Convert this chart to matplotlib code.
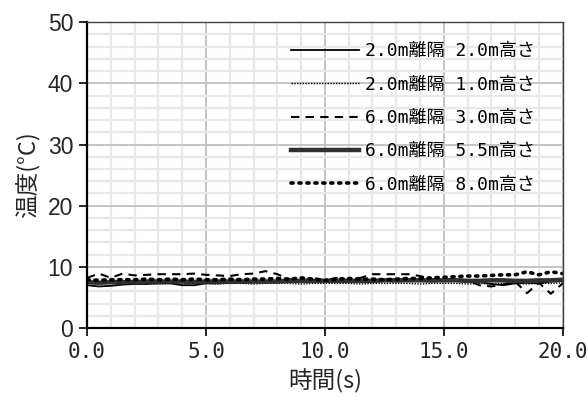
import numpy as np
import matplotlib
matplotlib.use('Agg')
import matplotlib.pyplot as plt
from matplotlib.ticker import MultipleLocator

plt.rcParams['font.family'] = ['Noto Sans CJK JP', 'DejaVu Sans']
mono = ['DejaVu Sans Mono', 'Noto Sans CJK JP']
narrow = ['Liberation Sans Narrow', 'Liberation Sans', 'DejaVu Sans']

# 時間(s)
t = [i * 0.5 for i in range(41)]

# 温度(°C)
t_2m_2m = [7.0, 6.8, 6.9, 7.1, 7.2, 7.2, 7.3, 7.3, 7.0, 7.0,
           7.3, 7.3, 7.4, 7.4, 7.5, 7.5, 7.5, 7.5, 7.6, 7.5,
           7.6, 7.6, 7.5, 7.6, 7.6, 7.7, 7.6, 7.7, 7.7, 7.6,
           7.7, 7.7, 7.6, 7.5, 7.2, 7.0, 7.3, 7.4, 7.3, 7.6, 7.7]
t_2m_1m = [7.4, 7.3, 7.3, 7.2, 7.3, 7.3, 7.2, 7.3, 7.2, 7.3,
           7.3, 7.2, 7.3, 7.3, 7.2, 7.3, 7.3, 7.3, 7.2, 7.3,
           7.3, 7.3, 7.3, 7.2, 7.3, 7.3, 7.3, 7.3, 7.2, 7.3,
           7.3, 7.3, 7.2, 7.3, 7.2, 7.3, 7.3, 7.2, 7.3, 7.3, 7.4]
t_6m_3m = [8.2, 8.9, 8.2, 8.9, 8.6, 8.7, 8.8, 8.8, 8.8, 8.9,
           8.7, 8.6, 8.5, 8.8, 8.9, 9.3, 8.8, 8.0, 7.6, 8.2,
           7.8, 8.2, 7.8, 8.2, 8.8, 8.8, 8.8, 8.8, 8.5, 8.0,
           7.9, 8.0, 7.8, 7.0, 6.8, 7.1, 7.6, 5.7, 7.4, 5.6, 7.3]
t_6m_55m = [7.5, 7.4, 7.5, 7.5, 7.5, 7.6, 7.6, 7.6, 7.6, 7.5,
            7.6, 7.6, 7.6, 7.6, 7.6, 7.6, 7.6, 7.7, 7.7, 7.7,
            7.7, 7.7, 7.7, 7.7, 7.7, 7.8, 7.8, 7.8, 7.8, 7.8,
            7.8, 7.8, 7.7, 7.7, 7.8, 7.8, 7.7, 7.7, 7.8, 7.8, 7.9]
t_6m_8m = [7.9, 7.8, 7.9, 7.9, 7.9, 8.0, 7.9, 8.0, 7.9, 8.0,
           7.9, 7.9, 8.0, 7.9, 8.0, 8.0, 8.1, 8.0, 8.2, 8.0,
           7.8, 8.0, 8.1, 8.0, 8.0, 7.9, 8.0, 8.1, 8.1, 8.2,
           8.3, 8.4, 8.5, 8.5, 8.6, 8.7, 8.7, 9.2, 8.7, 9.2, 8.9]

labels = ['2.0m離隔 2.0m高さ', '2.0m離隔 1.0m高さ', '6.0m離隔 3.0m高さ',
          '6.0m離隔 5.5m高さ', '6.0m離隔 8.0m高さ']
xticks = [0, 5, 10, 15, 20]

fig = plt.figure(figsize=(5.88, 4.03), dpi=100)
ax = fig.add_axes([0.148, 0.186, 0.809, 0.759])

ax.plot(t, t_2m_2m, color='black', lw=1.3, label=labels[0])
ax.plot(t, t_2m_1m, color='black', lw=1.0, linestyle=(0, (1, 1)), label=labels[1])
ax.plot(t, t_6m_3m, color='black', lw=1.5, linestyle=(0, (4, 3)), label=labels[2])
ax.plot(t, t_6m_55m, color='#303030', lw=3.2, label=labels[3])
ax.plot(t, t_6m_8m, color='black', lw=2.6, linestyle=(0, (0.6, 1.6)),
        dash_capstyle='round', label=labels[4])

ax.set_xlim(0, 20)
ax.set_ylim(0, 50)
ax.xaxis.set_minor_locator(MultipleLocator(1))
ax.yaxis.set_major_locator(MultipleLocator(10))
ax.yaxis.set_minor_locator(MultipleLocator(2))
ax.set_xticks(xticks)
ax.set_xticklabels(['%.1f' % v for v in xticks], family=mono, fontsize=15,
                   color='#262626')
for lab in ax.get_yticklabels():
    lab.set_family(narrow)
ax.tick_params(axis='y', labelsize=16.5, labelcolor='#262626', pad=4)
ax.tick_params(axis='x', pad=4)
ax.tick_params(which='major', direction='out', length=6, width=1.2, color='black')
ax.tick_params(which='minor', length=0)

ax.grid(which='minor', color='#e8e8e8', lw=1.6)
ax.grid(which='major', color='#c4c4c4', lw=1.4)
ax.set_axisbelow(True)

for side in ['left', 'bottom']:
    ax.spines[side].set_color('black')
    ax.spines[side].set_linewidth(1.6)
for side in ['top', 'right']:
    ax.spines[side].set_color('#404040')
    ax.spines[side].set_linewidth(1.0)

ax.set_xlabel('時間(s)', fontsize=17, labelpad=5, color='#262626')
ax.set_ylabel('温度(°C)', fontsize=17, labelpad=5, color='#262626')

leg = ax.legend(loc='upper right', frameon=False, handlelength=3.8,
                labelspacing=0.85, handletextpad=0.3,
                prop={'family': mono, 'size': 13},
                bbox_to_anchor=(0.975, 0.987))

fig.savefig('out.png', dpi=100)
